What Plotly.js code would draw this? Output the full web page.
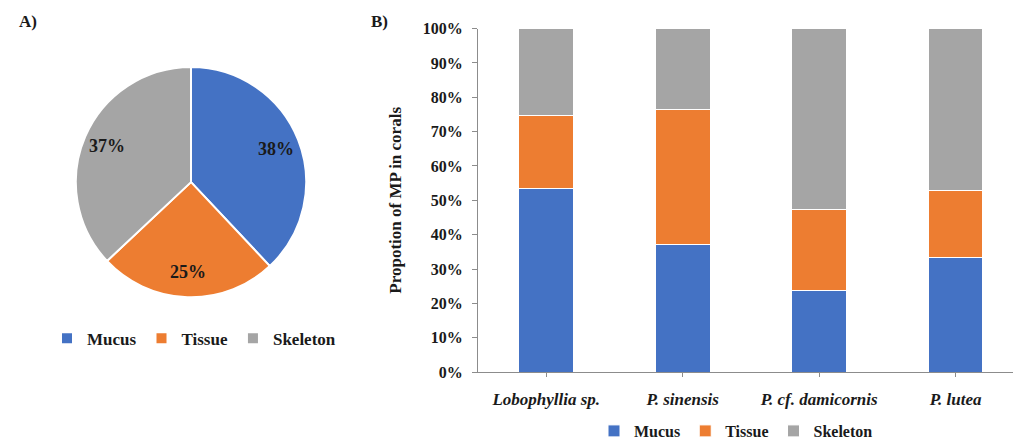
<!DOCTYPE html>
<html>
<head>
<meta charset="utf-8">
<script src="https://cdn.plot.ly/plotly-3.0.1.min.js"></script>
<style>html,body{margin:0;padding:0;background:#fff;}#chart{width:1013px;height:448px;}</style>
</head>
<body>
<div id="chart"></div>
<script>
// Panel A: overall share
const pieLabels = ["Mucus", "Tissue", "Skeleton"];
const pieValues = [38, 25, 37];

// Panel B: proportion per coral species
const species = ["Lobophyllia sp.", "P. sinensis", "P. cf. damicornis", "P. lutea"];
const mucus = [0.533, 0.370, 0.237, 0.334];
const tissue = [0.213, 0.393, 0.236, 0.196];
const skeleton = [0.254, 0.237, 0.527, 0.470];
const yTicks = [0, 0.1, 0.2, 0.3, 0.4, 0.5, 0.6, 0.7, 0.8, 0.9, 1.0];

const colors = {Mucus: "#4472C4", Tissue: "#ED7D31", Skeleton: "#A5A5A5"};
const serif = "Liberation Serif, Times New Roman, serif";
const ink = "#1a1a1a";
const W = 1013, H = 448;

// pie geometry (pixels) -> paper domain
const pcx = 191, pcy = 185, pr = 114;
const pieDomain = {x: [(pcx - pr - 3) / W, (pcx + pr + 3) / W], y: [(H - pcy - pr - 3) / H, (H - pcy + pr + 3) / H]};

// percentage labels placed near the rim (Excel best-fit style), angles derived from the data
const total = pieValues.reduce((a, b) => a + b, 0);
const pieAnn = [];
let cum = 0;
pieValues.forEach((v, i) => {
  const mid = (cum + v / 2) / total * 2 * Math.PI; // clockwise from 12 o'clock
  cum += v;
  const rr = pr * 0.8;
  const px = pcx + Math.sin(mid) * rr;
  const py = pcy - Math.cos(mid) * rr;
  pieAnn.push({
    text: Math.round(v / total * 100) + "%",
    x: px / W, y: (H - py) / H, xref: "paper", yref: "paper",
    xanchor: "center", yanchor: "middle", showarrow: false,
    font: {family: serif, size: 18, color: ink, weight: "bold"}
  });
});

const traces = [
  {
    type: "pie",
    labels: pieLabels,
    values: pieValues,
    sort: false,
    direction: "clockwise",
    rotation: 0,
    marker: {colors: pieLabels.map(l => colors[l]), line: {color: "#ffffff", width: 2}},
    textinfo: "none",
    domain: pieDomain,
    legend: "legend",
    hoverinfo: "label+percent"
  },
  {type: "bar", name: "Mucus", x: species, y: mucus, marker: {color: colors.Mucus, line: {color: "#ffffff", width: 1}}, xaxis: "x", yaxis: "y", legend: "legend2"},
  {type: "bar", name: "Tissue", x: species, y: tissue, marker: {color: colors.Tissue, line: {color: "#ffffff", width: 1}}, xaxis: "x", yaxis: "y", legend: "legend2"},
  {type: "bar", name: "Skeleton", x: species, y: skeleton, marker: {color: colors.Skeleton, line: {color: "#ffffff", width: 1}}, xaxis: "x", yaxis: "y", legend: "legend2"}
];

const layout = {
  width: W, height: H,
  margin: {l: 0, r: 0, t: 0, b: 0},
  paper_bgcolor: "#ffffff", plot_bgcolor: "#ffffff",
  font: {family: serif, color: ink, size: 15},
  barmode: "stack",
  bargap: 0.6,
  showlegend: true,
  xaxis: {
    domain: [478 / W, 1],
    range: [-0.5, 3.42],
    showline: true, linecolor: "#8c8c8c", linewidth: 1,
    ticks: "outside", ticklen: 4, tickcolor: "#8c8c8c",
    ticklabelstandoff: 8,
    showgrid: false, zeroline: false,
    tickfont: {family: serif, size: 17, color: ink, weight: "bold", style: "italic"},
    fixedrange: true
  },
  yaxis: {
    domain: [(H - 378) / H, (H - 29) / H],
    range: [0, 1],
    tickvals: yTicks,
    tickformat: ".0%",
    showline: true, linecolor: "#8c8c8c", linewidth: 1,
    ticks: "outside", ticklen: 5, tickcolor: "#8c8c8c",
    ticklabelstandoff: 6,
    showgrid: false, zeroline: false,
    tickfont: {family: serif, size: 16, color: ink, weight: "bold"},
    title: {text: "Propotion of MP in corals", standoff: 16, font: {family: serif, size: 17, color: ink, weight: "bold"}},
    fixedrange: true
  },
  legend: {
    orientation: "h", x: 194 / W, xanchor: "center", y: (H - 344) / H, yanchor: "middle",
    font: {family: serif, size: 17, color: ink, weight: "bold"},
    itemwidth: 30, bgcolor: "rgba(0,0,0,0)"
  },
  legend2: {
    orientation: "h", x: 736 / W, xanchor: "center", y: (H - 438) / H, yanchor: "middle",
    font: {family: serif, size: 16, color: ink, weight: "bold"},
    itemwidth: 30, bgcolor: "rgba(0,0,0,0)", traceorder: "normal"
  },
  annotations: [
    {text: "A)", x: 17 / W, y: (H - 22) / H, xref: "paper", yref: "paper", xanchor: "left", yanchor: "middle", showarrow: false, font: {family: serif, size: 17, color: ink, weight: "bold"}},
    {text: "B)", x: 369 / W, y: (H - 22) / H, xref: "paper", yref: "paper", xanchor: "left", yanchor: "middle", showarrow: false, font: {family: serif, size: 17, color: ink, weight: "bold"}}
  ].concat(pieAnn)
};

Plotly.newPlot("chart", traces, layout, {displayModeBar: false, staticPlot: true});
</script>
</body>
</html>
